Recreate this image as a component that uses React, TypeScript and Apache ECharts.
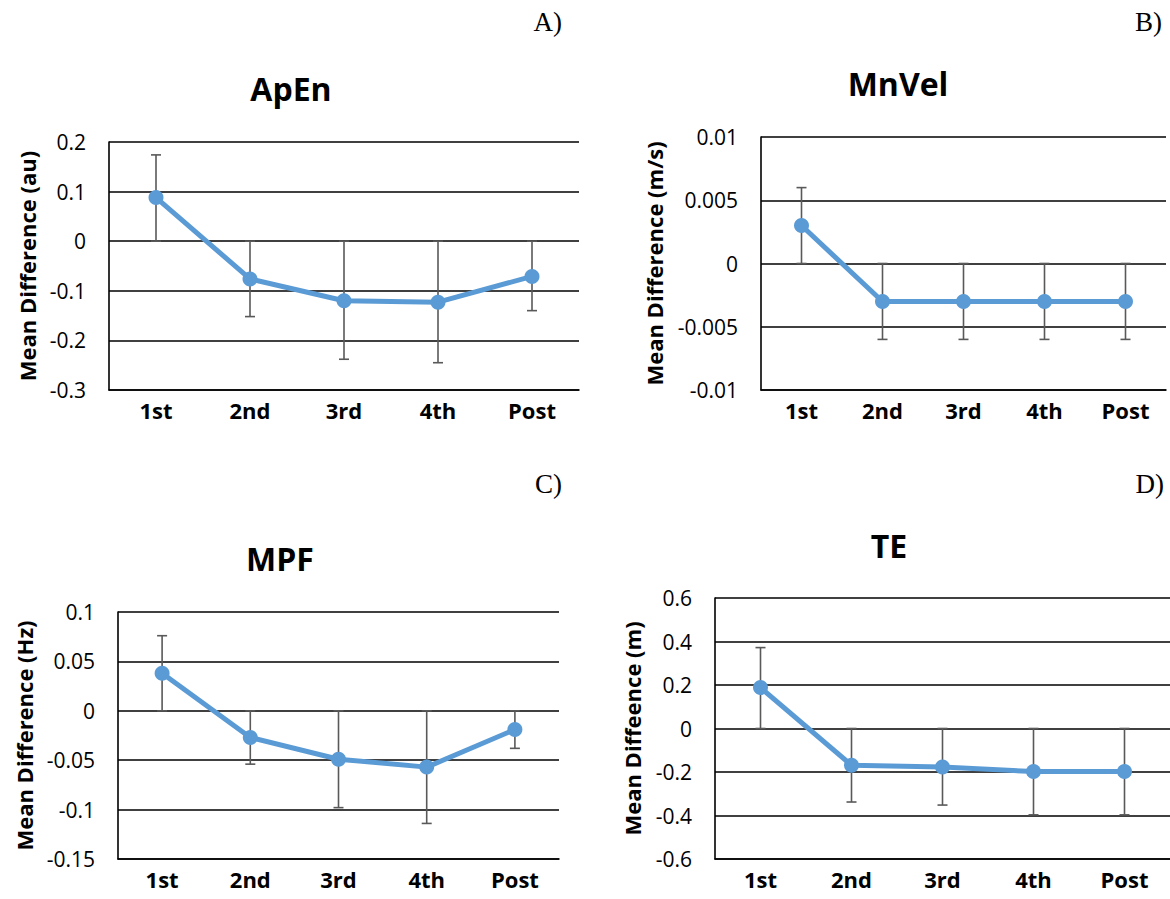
import React, { useEffect, useRef } from "react";
import * as echarts from "echarts";

const categories = ["1st", "2nd", "3rd", "4th", "Post"];

const apenMean = [0.088, -0.076, -0.12, -0.123, -0.071];
const apenUpper = [0.174, 0, 0, 0, 0];
const apenLower = [0, -0.152, -0.238, -0.245, -0.14];

const mnvelMean = [0.003, -0.003, -0.003, -0.003, -0.003];
const mnvelUpper = [0.006, 0, 0, 0, 0];
const mnvelLower = [0, -0.006, -0.006, -0.006, -0.006];

const mpfMean = [0.038, -0.027, -0.049, -0.057, -0.019];
const mpfUpper = [0.076, 0, 0, 0, 0];
const mpfLower = [0, -0.054, -0.098, -0.114, -0.038];

const teMean = [0.188, -0.169, -0.177, -0.198, -0.198];
const teUpper = [0.372, 0, 0, 0, 0];
const teLower = [0, -0.338, -0.352, -0.397, -0.397];

const panels = [
  { title: "ApEn", letter: "A)", yName: "Mean Difference (au)", min: -0.3, max: 0.2, interval: 0.1, mean: apenMean, upper: apenUpper, lower: apenLower },
  { title: "MnVel", letter: "B)", yName: "Mean Difference (m/s)", min: -0.01, max: 0.01, interval: 0.005, mean: mnvelMean, upper: mnvelUpper, lower: mnvelLower },
  { title: "MPF", letter: "C)", yName: "Mean Difference (Hz)", min: -0.15, max: 0.1, interval: 0.05, mean: mpfMean, upper: mpfUpper, lower: mpfLower },
  { title: "TE", letter: "D)", yName: "Mean Diffeence (m)", min: -0.6, max: 0.6, interval: 0.2, mean: teMean, upper: teUpper, lower: teLower },
];

// layout (px)
const grids = [
  { left: 109, top: 142, width: 470, height: 248 },
  { left: 761, top: 137, width: 405, height: 253 },
  { left: 118, top: 612, width: 441, height: 247 },
  { left: 715, top: 598, width: 455, height: 261 },
];
const titlePos = [
  { x: 286, y: 83 },
  { x: 893, y: 78 },
  { x: 275, y: 553 },
  { x: 884, y: 540 },
];
const letterPos = [
  { x: 562, y: 22 },
  { x: 1162, y: 22 },
  { x: 562, y: 484 },
  { x: 1164, y: 484 },
];
const nameGaps = [71, 96, 83, 72];

const FONT = "'Open Sans', 'Noto Sans', sans-serif";
const BLUE = "#5B9BD5";

export default function App() {
  const ref = useRef<HTMLDivElement>(null);
  useEffect(() => {
    document.body.style.margin = "0";
    const chart = echarts.init(ref.current!, null, { renderer: "svg" });
    const option: any = {
      animation: false,
      backgroundColor: "#ffffff",
      title: panels.map((p, i) => ({
        text: p.title,
        left: titlePos[i].x,
        top: titlePos[i].y,
        textAlign: "center",
        textVerticalAlign: "middle",
        textStyle: { fontFamily: FONT, fontWeight: "bold", fontSize: 32, color: "#000" },
      })),
      graphic: panels.map((p, i) => ({
        type: "text",
        x: letterPos[i].x,
        y: letterPos[i].y,
        style: {
          text: p.letter,
          align: "right",
          verticalAlign: "middle",
          font: "27px 'Liberation Serif', 'Times New Roman', serif",
          fill: "#000",
        },
      })),
      grid: grids.map((g) => ({ ...g, containLabel: false })),
      xAxis: panels.map((p, i) => ({
        type: "category",
        gridIndex: i,
        data: categories,
        boundaryGap: true,
        axisLine: { show: true, onZero: false, lineStyle: { color: "#000", width: 1.6 } },
        axisTick: { show: false },
        axisLabel: { fontFamily: FONT, fontWeight: "bold", fontSize: 22, color: "#000", margin: 9 },
        splitLine: { show: false },
      })),
      yAxis: panels.map((p, i) => ({
        type: "value",
        gridIndex: i,
        min: p.min,
        max: p.max,
        interval: p.interval,
        name: p.yName,
        nameLocation: "middle",
        nameRotate: 90,
        nameGap: nameGaps[i],
        nameTextStyle: { fontFamily: FONT, fontWeight: "bold", fontSize: 22, color: "#000" },
        axisLine: { show: true, lineStyle: { color: "#000", width: 1.6 } },
        axisTick: { show: false },
        axisLabel: {
          fontFamily: FONT,
          fontSize: 21,
          color: "#000",
          margin: 23,
          formatter: (v: number) => String(+v.toFixed(6)),
        },
        splitLine: { show: true, lineStyle: { color: "#000", width: 1.5 } },
      })),
      series: panels.flatMap((p, i) => [
        {
          type: "custom",
          xAxisIndex: i,
          yAxisIndex: i,
          z: 2,
          data: categories.map((c, k) => [k, p.lower[k], p.upper[k]]),
          encode: { x: 0, y: [1, 2] },
          renderItem: (params: any, api: any) => {
            const idx = api.value(0);
            const lo = api.coord([idx, api.value(1)]);
            const hi = api.coord([idx, api.value(2)]);
            const x = lo[0];
            const cap = 5;
            const style = { stroke: "#595959", lineWidth: 1.6 };
            return {
              type: "group",
              children: [
                { type: "line", shape: { x1: x, y1: lo[1], x2: x, y2: hi[1] }, style },
                { type: "line", shape: { x1: x - cap, y1: lo[1], x2: x + cap, y2: lo[1] }, style },
                { type: "line", shape: { x1: x - cap, y1: hi[1], x2: x + cap, y2: hi[1] }, style },
              ],
            };
          },
        },
        {
          type: "line",
          xAxisIndex: i,
          yAxisIndex: i,
          z: 3,
          data: p.mean,
          symbol: "circle",
          symbolSize: 15,
          lineStyle: { color: BLUE, width: 5 },
          itemStyle: { color: BLUE },
        },
      ]),
    };
    chart.setOption(option);
    return () => chart.dispose();
  }, []);
  return <div ref={ref} style={{ width: 1170, height: 899 }} />;
}
